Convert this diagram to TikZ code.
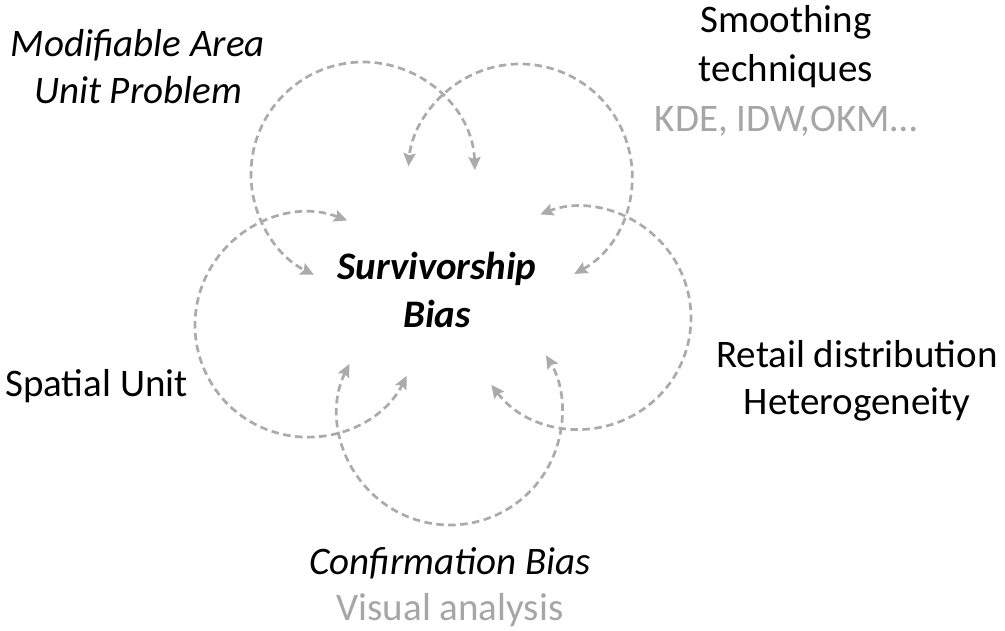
\documentclass[tikz,border=0pt]{standalone}
\usepackage{fontspec}
\setmainfont{Carlito}
\usetikzlibrary{arrows.meta}
\definecolor{arcgray}{HTML}{ABABAB}
\definecolor{txtgray}{HTML}{A6A6A6}
\begin{document}
\begin{tikzpicture}[x=1pt,y=1pt,
  loop/.style={draw=arcgray, line width=2.7pt, dash pattern=on 7.5pt off 4.5pt,
    {Stealth[length=13pt,width=12pt,inset=2pt]}-{Stealth[length=13pt,width=12pt,inset=2pt]}},
  lbl/.style={inner sep=0pt, anchor=base, font=\fontsize{39}{48}\selectfont},
  sub/.style={lbl, text=txtgray}]
\useasboundingbox (0,0) rectangle (1005,630);
% loop centres
\coordinate (c1) at (363,456);
\coordinate (c2) at (520,454);
\coordinate (c3) at (580,312);
\coordinate (c4) at (450,217);
\coordinate (c5) at (307,305);
% loops
\draw[loop] ([shift={(2:112pt)}]c1) arc[start angle=2, end angle=244, radius=112pt];
\draw[loop] ([shift={(299:112pt)}]c2) arc[start angle=299, end angle=535, radius=112pt];
\draw[loop] ([shift={(217:111pt)}]c3) arc[start angle=217, end angle=471, radius=111pt];
\draw[loop] ([shift={(154:112pt)}]c4) arc[start angle=154, end angle=391, radius=112pt];
\draw[loop] ([shift={(69:112pt)}]c5) arc[start angle=69, end angle=333, radius=112pt];
% centre text
\node[lbl, font=\fontsize{39}{48}\selectfont\bfseries\itshape] (sv1) at (437,350) {Survivorship};
\node[lbl, font=\fontsize{39}{48}\selectfont\bfseries\itshape] (sv2) at (437,302) {Bias};
% labels
\node[lbl, font=\fontsize{39}{48}\selectfont\itshape] (m1) at (138,573) {Modifiable Area};
\node[lbl, font=\fontsize{39}{48}\selectfont\itshape] (m2) at (138,526) {Unit Problem};
\node[lbl] (s1) at (786,597) {Smoothing};
\node[lbl] (s2) at (786,548) {techniques};
\node[sub] (s3) at (786,498) {KDE, IDW,OKM…};
\node[lbl, anchor=base west] (sp) at (5,233) {Spatial Unit};
\node[lbl] (r1) at (857,262) {Retail distribution};
\node[lbl] (r2) at (857,215) {Heterogeneity};
\node[lbl, font=\fontsize{39}{48}\selectfont\itshape] (cb1) at (450,56) {Confirmation Bias};
\node[sub] (cb2) at (450,10) {Visual analysis};
\end{tikzpicture}
\end{document}
